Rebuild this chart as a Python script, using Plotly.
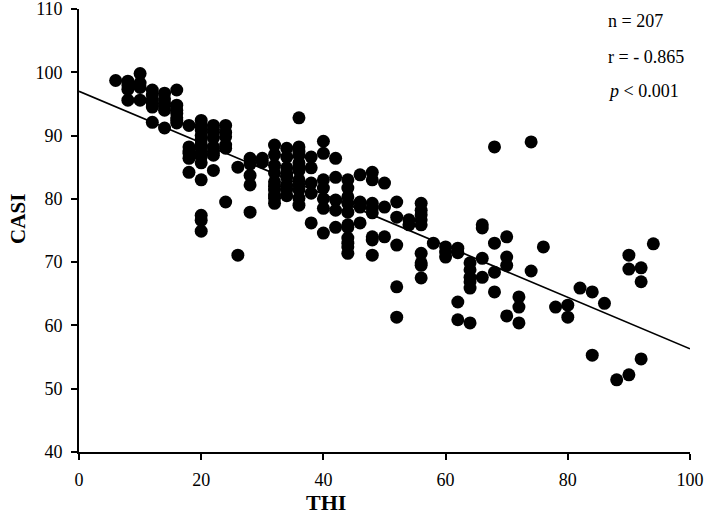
import plotly.graph_objects as go

# THI values (x) and CASI values (y)
thi = (
    [6] * 1 + [8] * 4 + [10] * 4 + [12] * 6 + [14] * 6 + [16] * 7 + [18] * 6
    + [20] * 14 + [22] * 8 + [24] * 6 + [26] * 2 + [28] * 5 + [30] * 2
    + [32] * 10 + [34] * 8 + [36] * 12 + [38] * 5 + [40] * 7 + [42] * 5
    + [44] * 11 + [46] * 4 + [48] * 8 + [50] * 3 + [52] * 5 + [54] * 2
    + [56] * 9 + [58] * 1 + [60] * 3 + [62] * 4 + [64] * 6 + [66] * 4
    + [68] * 4 + [70] * 4 + [72] * 3 + [74] * 2 + [76] * 1 + [78] * 1
    + [80] * 2 + [82] * 1 + [84] * 2 + [86] * 1 + [88] * 1 + [90] * 3
    + [92] * 3 + [94] * 1
)
casi = [
    98.7,
    98.6, 98.0, 97.3, 95.6,
    99.8, 98.3, 97.6, 95.6,
    97.2, 96.4, 95.6, 95.1, 94.5, 92.1,
    96.7, 95.8, 95.1, 94.6, 94.0, 91.2,
    97.2, 94.8, 94.0, 93.5, 92.8, 92.4, 92.0,
    91.6, 88.2, 87.6, 87.2, 86.4, 84.2,
    92.4, 91.5, 90.9, 90.0, 89.3, 88.6, 88.0, 87.2, 86.6, 85.7, 83.0, 77.4, 76.6, 74.9,
    91.6, 91.0, 90.5, 89.6, 88.2, 87.5, 86.9, 84.5,
    91.6, 90.5, 89.8, 88.5, 88.0, 79.5,
    85.0, 71.1,
    86.4, 85.5, 83.7, 82.2, 77.9,
    86.4, 85.8,
    88.5, 87.0, 85.3, 84.1, 82.7, 82.0, 81.4, 80.6, 80.1, 79.3,
    88.0, 86.6, 84.9, 84.0, 83.4, 82.2, 81.5, 80.5,
    92.8, 88.2, 87.5, 86.9, 85.7, 85.0, 84.5, 83.0, 82.2, 81.4, 80.1, 79.0,
    86.6, 84.9, 82.5, 80.9, 76.2,
    89.1, 87.2, 83.0, 81.7, 80.0, 78.5, 74.6,
    86.4, 83.4, 79.8, 78.2, 75.5,
    83.0, 81.7, 80.3, 79.3, 77.9, 75.9, 75.5, 73.8, 73.0, 72.4, 71.4,
    83.8, 79.5, 78.7, 76.2,
    84.2, 83.0, 79.3, 78.5, 77.8, 74.0, 73.5, 71.1,
    82.5, 78.7, 74.0,
    79.5, 77.1, 72.7, 66.1, 61.3,
    76.7, 75.9,
    79.3, 78.2, 77.5, 76.7, 75.9, 71.4, 69.9, 69.5, 67.5,
    73.0,
    72.4, 71.6, 70.8,
    72.2, 71.5, 63.7, 60.9,
    69.9, 68.8, 67.6, 66.9, 65.9, 60.4,
    75.9, 75.4, 70.6, 67.6,
    88.2, 73.0, 68.4, 65.3,
    74.0, 70.8, 69.5, 61.5,
    64.5, 62.9, 60.4,
    89.0, 68.6,
    72.4,
    62.9,
    63.2, 61.3,
    65.9,
    65.3, 55.3,
    63.5,
    51.4,
    71.1, 68.9, 52.2,
    69.1, 66.9, 54.7,
    72.9,
]

# Regression line end points
fit_x = [0, 100]
fit_y = [97.0, 56.3]

x_ticks = [0, 20, 40, 60, 80, 100]
y_ticks = [40, 50, 60, 70, 80, 90, 100, 110]

stats_lines = ["n = 207", "r = - 0.865", "<i>p</i> < 0.001"]

FONT = "Liberation Serif"

fig = go.Figure()
fig.add_trace(go.Scatter(
    x=thi, y=casi, mode="markers",
    marker=dict(color="black", size=13, line=dict(width=0)),
    showlegend=False, hoverinfo="x+y",
))
fig.add_trace(go.Scatter(
    x=fit_x, y=fit_y, mode="lines",
    line=dict(color="black", width=1.7),
    showlegend=False, hoverinfo="skip",
))

axis_common = dict(
    showgrid=False, zeroline=False, showline=True, linecolor="black",
    linewidth=1.8, ticks="outside", ticklen=6, tickwidth=1.8, tickcolor="black",
    tickfont=dict(family=FONT, size=18, color="black"),
    ticklabeloverflow="allow", automargin=False,
)
fig.update_xaxes(range=[0, 100], tickvals=x_ticks, ticklabelstandoff=4, **axis_common)
fig.update_yaxes(range=[40, 110], tickvals=y_ticks, ticklabelstandoff=5, **axis_common)

ann = []
ys = [0.973, 0.892, 0.815]
for t, yv in zip(stats_lines, ys):
    ann.append(dict(text=t, xref="paper", yref="paper", x=0.862, y=yv,
                    xanchor="left", yanchor="middle", showarrow=False,
                    font=dict(family=FONT, size=18, color="black")))
ann.append(dict(text="<b>THI</b>", xref="paper", yref="paper", x=0.404, y=-0.113,
                xanchor="center", yanchor="middle", showarrow=False,
                font=dict(family=FONT, size=22, color="black")))
ann.append(dict(text="<b>CASI</b>", xref="paper", yref="paper", x=-0.10, y=0.526,
                xanchor="center", yanchor="middle", showarrow=False, textangle=-90,
                font=dict(family=FONT, size=21, color="black")))

fig.update_layout(
    width=709, height=514,
    margin=dict(l=79, r=19, t=9, b=62),
    plot_bgcolor="white", paper_bgcolor="white",
    annotations=ann,
)

fig.write_html(
    "out.html",
    config={"displayModeBar": False},
    post_script="document.body.style.margin='0';document.body.style.padding='0';",
)
